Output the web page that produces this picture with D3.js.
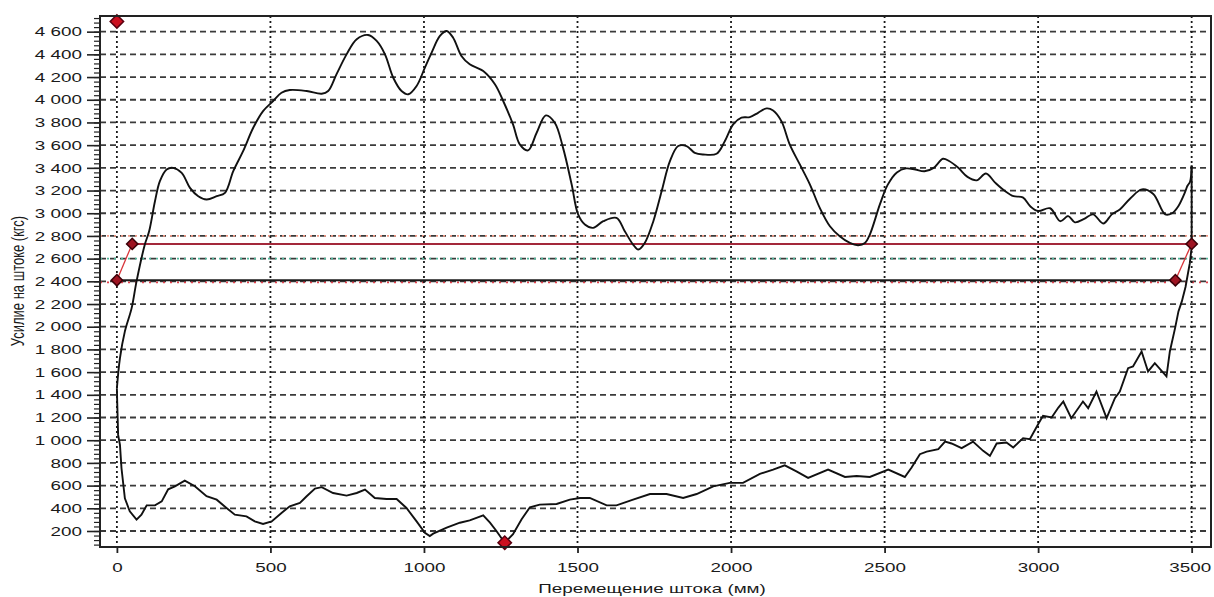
<!DOCTYPE html>
<html>
<head>
<meta charset="utf-8">
<script src="https://cdn.jsdelivr.net/npm/d3@7"></script>
<style>
body { margin: 0; background: #fff; }
svg text { font-family: "Liberation Sans", Arial, sans-serif; fill: #1a1a1a; }
</style>
</head>
<body>
<div id="chart"></div>
<script>
// tick values
const xTicks = [0, 500, 1000, 1500, 2000, 2500, 3000, 3500];
const yTicks = [200, 400, 600, 800, 1000, 1200, 1400, 1600, 1800, 2000, 2200, 2400,
                2600, 2800, 3000, 3200, 3400, 3600, 3800, 4000, 4200, 4400, 4600];

// dynamogram: [displacement mm, load kgf]
const upStroke = [[0,1458],[10,1723],[26,1959],[48,2164],[64,2400],[91,2724],[105,2841],[124,3106],
  [140,3283],[162,3386],[183,3400],[211,3356],[238,3224],[265,3150],[292,3121],[325,3150],[352,3180],
  [379,3371],[411,3547],[444,3753],[476,3900],[509,3989],[536,4062],[563,4086],[618,4077],[667,4053],
  [688,4077],[715,4224],[748,4400],[781,4533],[818,4571],[846,4518],[873,4400],[900,4194],[927,4077],
  [949,4048],[976,4121],[1003,4283],[1025,4416],[1052,4562],[1074,4606],[1095,4547],[1122,4386],
  [1149,4313],[1193,4253],[1231,4136],[1258,3989],[1290,3783],[1312,3607],[1339,3554],[1367,3709],
  [1397,3862],[1426,3797],[1453,3576],[1481,3253],[1502,2989],[1524,2900],[1551,2871],[1584,2930],
  [1627,2959],[1654,2841],[1681,2724],[1698,2680],[1719,2738],[1747,2930],[1774,3194],[1801,3459],
  [1828,3592],[1855,3592],[1882,3532],[1909,3518],[1953,3524],[1980,3636],[2007,3783],[2034,3842],
  [2061,3847],[2088,3885],[2116,3924],[2137,3906],[2164,3812],[2191,3607],[2224,3430],[2257,3253],
  [2289,3047],[2322,2885],[2354,2797],[2387,2738],[2414,2718],[2436,2738],[2452,2812],[2485,3080],
  [2510,3250],[2540,3360],[2570,3395],[2600,3385],[2630,3370],[2660,3400],[2690,3480],[2710,3460],
  [2740,3400],[2770,3320],[2800,3290],[2830,3350],[2860,3270],[2890,3200],[2920,3150],[2950,3140],
  [2975,3060],[3000,3020],[3039,3044],[3072,2930],[3098,2975],[3120,2920],[3150,2950],[3179,2990],
  [3212,2910],[3240,2990],[3267,3035],[3300,3130],[3338,3210],[3375,3170],[3414,2990],[3436,3000],
  [3456,3060],[3479,3190],[3486,3240],[3495,3280],[3500,3420]];

const downStroke = [[3500,3420],[3500,2700],[3494,2560],[3480,2350],[3468,2223],[3457,2135],[3446,1988],
  [3429,1782],[3418,1562],[3380,1679],[3358,1606],[3337,1782],[3309,1650],[3293,1635],[3266,1429],
  [3250,1370],[3223,1194],[3190,1429],[3163,1282],[3146,1341],[3108,1194],[3082,1341],[3066,1288],
  [3044,1200],[3016,1215],[3000,1141],[2973,1009],[2951,1018],[2919,936],[2897,980],[2865,971],
  [2843,862],[2821,906],[2788,988],[2751,930],[2718,971],[2697,988],[2675,921],[2637,900],[2615,877],
  [2588,759],[2566,676],[2512,741],[2452,676],[2409,685],[2371,676],[2316,741],[2251,668],[2213,726],
  [2175,779],[2137,741],[2094,703],[2039,624],[1996,624],[1942,594],[1888,526],[1844,491],[1790,526],
  [1736,526],[1681,476],[1627,426],[1595,426],[1540,491],[1508,491],[1475,476],[1432,438],[1377,432],
  [1345,409],[1318,303],[1290,171],[1263,97],[1236,200],[1215,273],[1193,338],[1149,294],[1117,273],
  [1074,230],[1030,177],[1019,156],[1003,185],[976,285],[943,403],[911,482],[878,482],[840,491],
  [808,565],[781,535],[748,512],[704,535],[667,586],[645,574],[618,506],[596,447],[563,418],[536,359],
  [504,285],[476,262],[449,285],[422,329],[384,344],[357,403],[325,476],[292,506],[254,594],[221,644],
  [189,594],[167,567],[146,461],[124,426],[97,426],[80,344],[64,300],[42,373],[26,488],[15,753],
  [10,959],[4,1047],[1,1340],[0,1458]];

// valve levels and their end points
const lowerLevel = [[0, 2410], [3447, 2410]];
const upperLevel = [[50, 2730], [3500, 2730]];
const leftValve = [[0, 2410], [50, 2730]];
const rightValve = [[3447, 2410], [3500, 2730]];
const valvePoints = [[0, 2410], [50, 2730], [3447, 2410], [3500, 2730]];
const extremes = [[0, 4690], [1263, 97]];

// coloured dotted reference levels
const refLevels = [2800, 2600, 2390];
const refColors = ["#ec9682", "#4fb89c", "#e2404c"];

const width = 1214, height = 597;
const plot = {left: 100, right: 1211, top: 16, bottom: 547};
const sx = 1.45; // labels in the picture are stretched sideways

const x = d3.scaleLinear().domain([-55, 3563]).range([plot.left, plot.right]);
const y = d3.scaleLinear().domain([59, 4738]).range([plot.bottom, plot.top]);

const fmt = d3.formatLocale({decimal: ",", thousands: "\u00a0", grouping: [3], currency: ["", ""]}).format(",");

let svg = d3.select("#chart").append("svg")
  .attr("width", width)
  .attr("height", height);

// horizontal dashed grid
svg.append("g").selectAll("line")
  .data(yTicks)
  .enter().append("line")
    .attr("x1", plot.left).attr("x2", plot.right)
    .attr("y1", (d) => y(d)).attr("y2", (d) => y(d))
    .attr("stroke", "#3a3a3a")
    .attr("stroke-width", 1.8)
    .attr("stroke-dasharray", "6,4");

// coloured dotted levels
svg.append("g").selectAll("line")
  .data(refLevels)
  .enter().append("line")
    .attr("x1", plot.left).attr("x2", plot.right)
    .attr("y1", (d) => y(d)).attr("y2", (d) => y(d))
    .attr("stroke", (d, i) => refColors[i])
    .attr("stroke-width", 1.8)
    .attr("stroke-dasharray", "2,5");

// vertical dotted grid
svg.append("g").selectAll("line")
  .data(xTicks)
  .enter().append("line")
    .attr("x1", (d) => x(d)).attr("x2", (d) => x(d))
    .attr("y1", plot.top).attr("y2", plot.bottom)
    .attr("stroke", "#1a1a1a")
    .attr("stroke-width", 1.8)
    .attr("stroke-dasharray", "2,3");

const line = d3.line().x((d) => x(d[0])).y((d) => y(d[1]));

// valve levels
svg.append("path").attr("d", line(lowerLevel))
  .attr("fill", "none").attr("stroke", "#1a1a1a").attr("stroke-width", 2);
svg.append("path").attr("d", line(upperLevel))
  .attr("fill", "none").attr("stroke", "#a3283a").attr("stroke-width", 2);
[leftValve, rightValve].forEach((seg) => {
  svg.append("path").attr("d", line(seg))
    .attr("fill", "none").attr("stroke", "#d8353a").attr("stroke-width", 1.3);
});

// the load curve
svg.append("path")
  .attr("d", d3.line().x((d) => x(d[0])).y((d) => y(d[1])).curve(d3.curveCatmullRom.alpha(0.5))(upStroke))
  .attr("fill", "none").attr("stroke", "#111").attr("stroke-width", 1.9);
svg.append("path")
  .attr("d", line(downStroke))
  .attr("fill", "none").attr("stroke", "#111").attr("stroke-width", 1.9);

// markers
const diamond = d3.symbol().type(d3.symbolSquare);
svg.append("g").selectAll("path")
  .data(valvePoints)
  .enter().append("path")
    .attr("d", diamond.size(64)())
    .attr("transform", (d) => "translate(" + x(d[0]) + "," + y(d[1]) + ") rotate(45)")
    .attr("fill", "#9e1422").attr("stroke", "#3c0008").attr("stroke-width", 1.5);
svg.append("g").selectAll("path")
  .data(extremes)
  .enter().append("path")
    .attr("d", diamond.size(90)())
    .attr("transform", (d) => "translate(" + x(d[0]) + "," + y(d[1]) + ") rotate(45)")
    .attr("fill", "#cc1020").attr("stroke", "#5a0010").attr("stroke-width", 1.5);

// axes
let yMinor = d3.range(80, 4740, 40);
svg.append("g").attr("transform", "translate(" + plot.left + ",0)")
  .call(d3.axisLeft(y).tickValues(yMinor).tickSize(6).tickFormat(""))
  .call((g) => g.select(".domain").remove())
  .selectAll("line").attr("stroke", "#222").attr("stroke-width", 1.2);

let yAxis = svg.append("g").attr("transform", "translate(" + plot.left + ",0)")
  .call(d3.axisLeft(y).tickValues(yTicks).tickSize(13).tickPadding(5).tickSizeOuter(0).tickFormat(fmt));
yAxis.select(".domain").remove();
yAxis.selectAll("line").attr("stroke", "#222").attr("stroke-width", 1.6);
yAxis.selectAll("text")
  .attr("font-size", 13)
  .attr("x", -18 / sx)
  .attr("transform", "scale(" + sx + ",1)");

let xAxis = svg.append("g").attr("transform", "translate(0," + plot.bottom + ")")
  .call(d3.axisBottom(x).tickValues(xTicks).tickSize(6).tickPadding(10).tickSizeOuter(0).tickFormat(d3.format("d")));
xAxis.select(".domain").remove();
xAxis.selectAll("line").attr("stroke", "#222").attr("stroke-width", 1.8);
xAxis.selectAll("text")
  .attr("font-size", 13)
  .attr("transform", "scale(" + sx + ",1)");
// the last label sits against the right edge in the picture
xAxis.selectAll("text").filter((d) => d === 3500).attr("x", -2 / sx);

// frame
svg.append("rect")
  .attr("x", plot.left).attr("y", plot.top)
  .attr("width", plot.right - plot.left).attr("height", plot.bottom - plot.top)
  .attr("fill", "none").attr("stroke", "#222").attr("stroke-width", 2);

// titles
svg.append("text")
  .attr("transform", "translate(652,593) scale(" + sx + ",1)")
  .attr("text-anchor", "middle")
  .attr("font-size", 13)
  .text("Перемещение штока (мм)");

svg.append("text")
  .attr("transform", "translate(24,281) rotate(-90) scale(1," + sx + ")")
  .attr("text-anchor", "middle")
  .attr("font-size", 13)
  .text("Усилие на штоке (кгс)");
</script>
</body>
</html>
